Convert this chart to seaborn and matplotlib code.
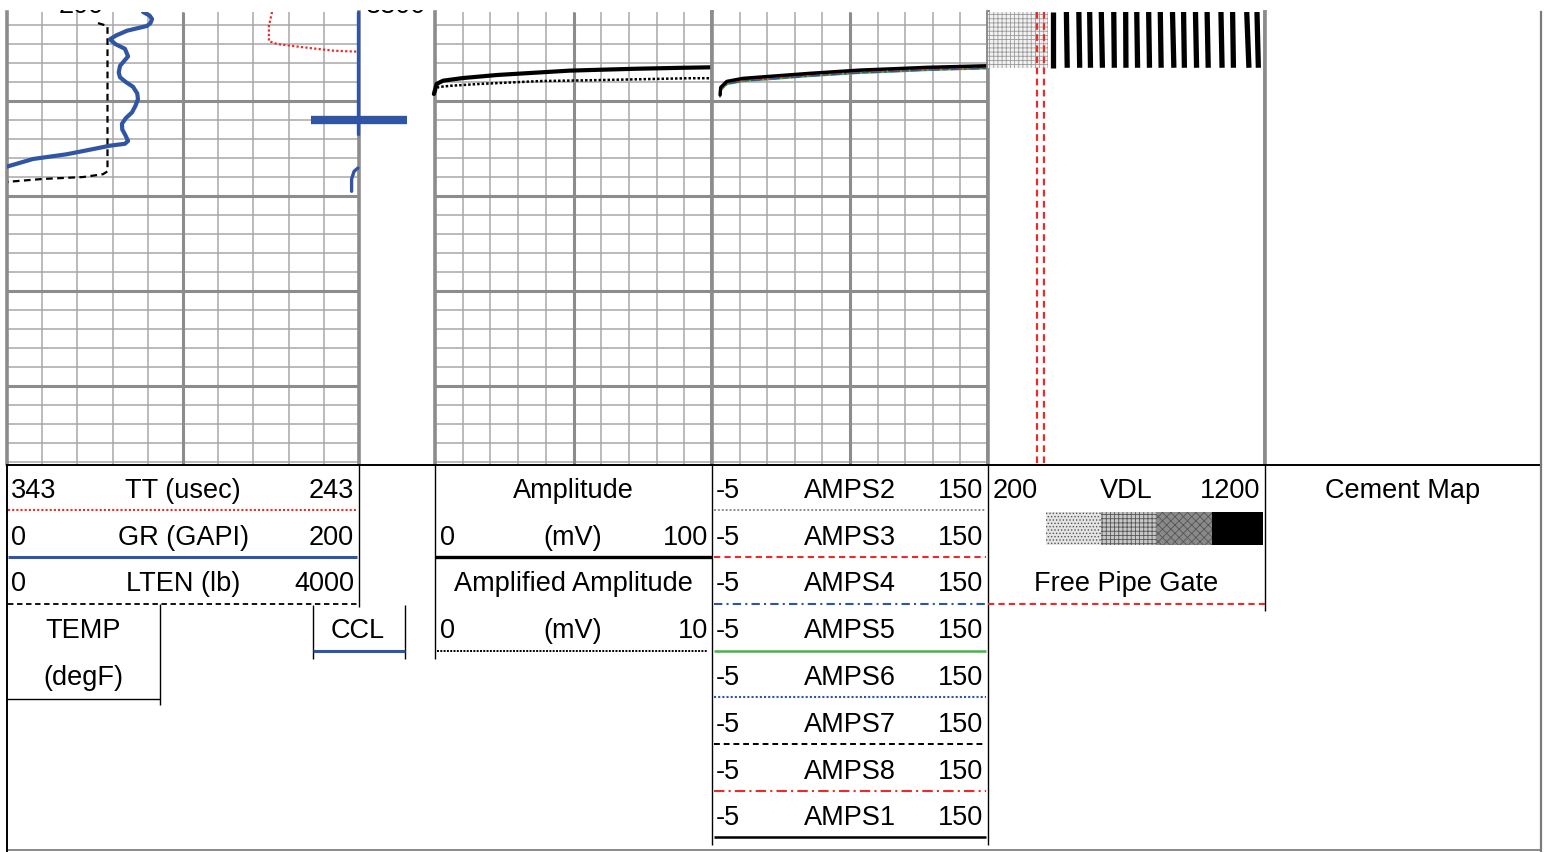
"""
Cement bond log panel: GR / TT / LTEN / CCL, amplitude, sector amplitudes,
VDL and cement map tracks with the header legend underneath.
"""

import numpy as np
import matplotlib
matplotlib.use("Agg")
import matplotlib.pyplot as plt
import seaborn as sns
from matplotlib.patches import Rectangle

# ──────────────────────────────────────────────
# Curve readings (depth in ft)
# ──────────────────────────────────────────────

depth_top, depth_bottom = 3800.63, 3848.2

gr_depth = [3800.63, 3801.0, 3801.37, 3801.8, 3802.1, 3802.6, 3803.1, 3803.5, 3804.0,
            3804.5, 3805.3, 3805.8, 3806.3, 3807.0, 3807.5, 3808.0, 3808.5, 3809.2,
            3809.8, 3810.5, 3811.2, 3811.8, 3812.4, 3813.0, 3813.5, 3814.2, 3814.5,
            3814.7, 3815.2, 3815.6, 3816.1, 3816.9]
gr = [77.3, 81.0, 82.4, 81.5, 79.5, 68.2, 62.0, 58.5, 61.5,
      67.0, 68.8, 66.5, 64.2, 63.5, 64.2, 67.5, 71.6, 74.0,
      74.4, 73.0, 71.0, 67.5, 65.3, 65.5, 67.0, 68.8, 67.0,
      58.5, 45.0, 34.0, 14.8, 0.0]

lten_depth = [3801.8, 3802.1, 3810.0, 3817.4, 3817.7, 3818.0, 3818.2, 3818.5]
lten = [1034, 1142, 1142, 1142, 1091, 864, 409, 11]

tt_depth = [3800.63, 3802.1, 3803.7, 3804.0, 3804.3, 3804.7, 3804.8]
tt = [267.7, 268.6, 268.6, 266.3, 259.8, 250.4, 243.6]

ccl_depth = [3800.63, 3813.5]
ccl = [-0.03, -0.03]
ccl_tail_depth = [3817.05, 3817.4, 3818.2, 3819.5]
ccl_tail = [-0.03, -0.14, -0.21, -0.21]
collar_depth = 3812.0
collar_left, collar_right = -1.36, 1.36

amp_depth = [3809.26, 3808.2, 3807.86, 3807.58, 3807.26, 3807.05, 3806.8, 3806.7,
             3806.6, 3806.5, 3806.45]
amp = [-0.4, 0.6, 2.9, 10.1, 22.4, 34.3, 48.7, 60.6, 72.9, 89.5, 100.0]

amp_x_depth = [3809.05, 3808.53, 3808.4, 3808.2, 3807.9, 3807.8, 3807.6, 3807.6]
amp_x = [0.0, 0.11, 0.54, 1.62, 3.79, 5.85, 9.2, 10.0]

# sector amplitudes: shared readings, each sector sits a hair deeper
amps_mv = [-0.5, -0.1, 3.3, 12.4, 31.5, 50.0, 78.0, 96.6, 115.7, 136.0, 150.0]
amps1_depth = [3809.34, 3808.56, 3807.93, 3807.61, 3807.34, 3807.08, 3806.74, 3806.60,
               3806.45, 3806.35, 3806.28]
amps2_depth = [3809.38, 3808.61, 3807.98, 3807.66, 3807.39, 3807.13, 3806.79, 3806.65,
               3806.50, 3806.40, 3806.33]
amps3_depth = [3809.44, 3808.68, 3808.05, 3807.74, 3807.47, 3807.20, 3806.86, 3806.72,
               3806.58, 3806.48, 3806.40]
amps4_depth = [3809.52, 3808.80, 3808.18, 3807.86, 3807.60, 3807.33, 3807.00, 3806.86,
               3806.70, 3806.60, 3806.52]
amps5_depth = [3809.55, 3808.84, 3808.22, 3807.90, 3807.64, 3807.37, 3807.04, 3806.90,
               3806.74, 3806.63, 3806.56]
amps6_depth = [3809.50, 3808.78, 3808.15, 3807.83, 3807.57, 3807.30, 3806.97, 3806.83,
               3806.67, 3806.57, 3806.49]
amps7_depth = [3809.37, 3808.60, 3807.97, 3807.65, 3807.38, 3807.12, 3806.78, 3806.64,
               3806.49, 3806.39, 3806.32]
amps8_depth = [3809.42, 3808.66, 3808.03, 3807.72, 3807.45, 3807.18, 3806.84, 3806.70,
               3806.56, 3806.46, 3806.38]

# VDL: arrival stripes (usec) at the top and bottom of the logged interval
vdl_depth = [3800.63, 3806.5]
vdl_quiet_end = 415
vdl_peaks_top = [435, 483, 528, 567, 609, 654, 697, 737, 780, 822, 866, 906, 949, 991,
                 1041, 1083, 1134, 1171]
vdl_peaks_bottom = [435, 486, 531, 570, 613, 656, 698, 740, 783, 825, 871, 909, 953, 995,
                    1045, 1086, 1142, 1176]
free_pipe_gate = [377, 402]

# header legend text
tt_row = [("343", "TT (usec)", "243"), ("0", "GR (GAPI)", "200"), ("0", "LTEN (lb)", "4000")]
amp_rows = [("", "Amplitude", ""), ("0", "(mV)", "100"),
            ("", "Amplified Amplitude", ""), ("0", "(mV)", "10")]
amps_names = ["AMPS2", "AMPS3", "AMPS4", "AMPS5", "AMPS6", "AMPS7", "AMPS8", "AMPS1"]
amps_lo, amps_hi = "-5", "150"

# grid spacing (ft) and track divisions
grid_major_depth = np.arange(3810, 3850, 10)
grid_minor_depth = np.arange(3802, 3850, 2)
grid_div = np.arange(0, 1.01, 0.1)

# ──────────────────────────────────────────────
# Figure setup
# ──────────────────────────────────────────────

sns.set_theme(style="white")
plt.rcParams["font.family"] = ["Liberation Sans", "DejaVu Sans"]
plt.rcParams["hatch.linewidth"] = 0.6

W, H = 1554, 853
fig = plt.figure(figsize=(W / 100, H / 100), dpi=100)

GRID_THIN = "#a8a8a8"
GRID_THICK = "#8c8c8c"
BLUE = "#2f55a4"
RED = "#ec2a2a"
GREEN = "#4cb34c"
FS = 19.5


def px_rect(x0, y0, x1, y1):
    return [x0 / W, 1 - y1 / H, (x1 - x0) / W, (y1 - y0) / H]


def track(x0, x1, grid=True):
    ax = fig.add_axes(px_rect(x0, 13, x1, 465))
    ax.set_xlim(0, 1)
    ax.set_ylim(depth_bottom, depth_top)
    ax.set_xticks([])
    ax.set_yticks([])
    if grid:
        ax.hlines(grid_minor_depth, 0, 1, color=GRID_THIN, lw=1.1, zorder=0)
        ax.vlines(grid_div, depth_bottom, depth_top, color=GRID_THIN, lw=1.1, zorder=0)
        ax.hlines(grid_major_depth, 0, 1, color=GRID_THICK, lw=2.2, zorder=0.5)
        ax.vlines([0.5], depth_bottom, depth_top, color=GRID_THICK, lw=2.2, zorder=0.5)
    for side in ("top", "bottom"):
        ax.spines[side].set_visible(False)
    for side in ("left", "right"):
        ax.spines[side].set_color(GRID_THICK)
        ax.spines[side].set_linewidth(2.6)
    ax._px = (x0, x1)
    return ax


def overlay(base, lo, hi):
    x0, x1 = base._px
    tw = fig.add_axes(px_rect(x0, 13, x1, 465))
    tw.set_facecolor("none")
    tw.set_xlim(lo, hi)
    tw.set_ylim(depth_bottom, depth_top)
    tw.axis("off")
    return tw


def curve(ax, x, y, lo, hi, **kw):
    sns.lineplot(x=x, y=y, sort=False, estimator=None, ax=ax, **kw)
    ax.set_xlim(lo, hi)
    ax.set_ylim(depth_bottom, depth_top)
    ax.axis("off")


# ──────────────────────────────────────────────
# Track 1: TT / GR / LTEN / CCL
# ──────────────────────────────────────────────

ax1 = track(7, 359)
ax_tt = overlay(ax1, 343, 243)
curve(ax_tt, tt, tt_depth, 343, 243, color=RED, lw=1.6, ls=(0, (1, 1)))
ax_lten = overlay(ax1, 0, 4000)
curve(ax_lten, lten, lten_depth, 0, 4000, color="black", lw=1.6, ls=(0, (3, 2)))
ax_gr = overlay(ax1, 0, 200)
curve(ax_gr, gr, gr_depth, 0, 200, color=BLUE, lw=3.0)
ax_ccl = overlay(ax1, -10, 0)
curve(ax_ccl, ccl, ccl_depth, -10, 0, color=BLUE, lw=2.4, clip_on=False)
curve(ax_ccl, ccl_tail, ccl_tail_depth, -10, 0, color=BLUE, lw=2.4, clip_on=False)
ax_ccl.hlines(collar_depth, collar_left, collar_right, color=BLUE, lw=6, clip_on=False)

# ──────────────────────────────────────────────
# Track 2: Amplitude
# ──────────────────────────────────────────────

ax2 = track(435, 712)
ax_ax = overlay(ax2, 0, 10)
curve(ax_ax, amp_x, amp_x_depth, 0, 10, color="black", lw=1.8, ls=(0, (1, 0.8)))
ax_amp = overlay(ax2, 0, 100)
curve(ax_amp, amp, amp_depth, 0, 100, color="black", lw=3.0, clip_on=False)

# ──────────────────────────────────────────────
# Track 3: sector amplitudes
# ──────────────────────────────────────────────

ax3 = track(712, 988)
ax_s = overlay(ax3, -5, 150)
amps_styles = [
    (amps5_depth, GREEN, "-", 1.6),
    (amps4_depth, BLUE, (0, (4, 2, 1, 2)), 1.6),
    (amps6_depth, BLUE, (0, (1, 1)), 1.6),
    (amps3_depth, RED, (0, (3, 2)), 1.6),
    (amps8_depth, RED, (0, (5, 2, 1, 2)), 1.6),
    (amps2_depth, "#8c8c8c", (0, (1, 1)), 1.4),
    (amps7_depth, "black", (0, (3, 2)), 1.6),
    (amps1_depth, "black", "-", 2.4),
]
for dep, col, ls, lw in amps_styles:
    curve(ax_s, amps_mv, dep, -5, 150, color=col, ls=ls, lw=lw)

# ──────────────────────────────────────────────
# Track 4: VDL
# ──────────────────────────────────────────────

ax4 = track(988, 1265, grid=False)
ax_v = overlay(ax4, 200, 1200)
ax_v.fill_betweenx(vdl_depth, 200, vdl_quiet_end, facecolor="#f2f2f2",
                   hatch="++++", edgecolor="#9a9a9a", lw=0)
for t0, t1 in zip(vdl_peaks_top, vdl_peaks_bottom):
    ax_v.plot([t0, t1], vdl_depth, color="black", lw=3.8, solid_capstyle="butt")
ax_v.vlines(free_pipe_gate, depth_top, depth_bottom, color=RED, lw=1.6, ls=(0, (3, 2)))

# ──────────────────────────────────────────────
# Track 5: Cement map (empty)
# ──────────────────────────────────────────────

ax5 = track(1265, 1541, grid=False)
ax5.spines["right"].set_color("#7a7a7a")
ax5.spines["right"].set_linewidth(1.6)

# ──────────────────────────────────────────────
# Header legend (pixel coordinates)
# ──────────────────────────────────────────────

hdr = fig.add_axes([0, 0, 1, 1])
hdr.set_xlim(0, W)
hdr.set_ylim(H, 0)
hdr.axis("off")
hdr.patch.set_alpha(0)

row_y = [491, 538, 584, 631, 678, 725, 772, 818]
line_y = [511, 558, 605, 652, 698, 745, 792, 838]


def txt(x, y, s, ha="center"):
    hdr.text(x, y, s, ha=ha, va="center", fontsize=FS, color="black", zorder=3)


def hline(x0, x1, y, **kw):
    hdr.plot([x0, x1], [y, y], solid_capstyle="butt", **kw)


def vline(x, y0, y1, **kw):
    hdr.plot([x, x], [y0, y1], solid_capstyle="butt", **kw)


# clipped labels peeking at the top edge
txt(81, 6, "200")
txt(396, 6, "3800")
hdr.add_patch(Rectangle((0, 0), W, 10.5, facecolor="white", edgecolor="none", zorder=4))

# frame
hline(7, 1541, 465.5, color="black", lw=1.4)
hline(7, 1541, 851, color="#8a8a8a", lw=1.4)
vline(7, 465, 853, color="black", lw=1.4)
vline(1541, 465, 853, color="#7a7a7a", lw=1.6)
vline(359, 465, 608, color="black", lw=1.0)
vline(435, 465, 660, color="black", lw=1.0)
vline(712, 465, 846, color="black", lw=1.0)
vline(988, 465, 846, color="black", lw=1.0)
vline(1265, 465, 612, color="black", lw=1.0)

# track 1 rows
t1_lines = [dict(color=RED, lw=1.5, ls=(0, (1, 1))),
            dict(color=BLUE, lw=2.2),
            dict(color="black", lw=1.3, ls=(0, (3, 2)))]
for (lo, name, hi), y, ly, st in zip(tt_row, row_y, line_y, t1_lines):
    txt(11, y, lo, ha="left")
    txt(183, y, name)
    txt(354, y, hi, ha="right")
    hline(8, 357, ly, **st)

txt(83, row_y[3], "TEMP")
txt(83, row_y[4], "(degF)")
vline(160, 605, 706, color="black", lw=1.0)
hline(7, 160, 700, color="black", lw=1.0)

txt(358, row_y[3], "CCL")
vline(313, 606, 660, color="black", lw=1.0)
vline(405, 606, 660, color="black", lw=1.0)
hline(313, 405, 652, color=BLUE, lw=2.2)

# track 2 rows
for (lo, name, hi), y in zip(amp_rows, row_y):
    if lo:
        txt(440, y, lo, ha="left")
        txt(708, y, hi, ha="right")
    txt(573, y, name)
hline(435, 712, line_y[1], color="black", lw=2.4)
hline(437, 708, line_y[3], color="black", lw=1.4, ls=(0, (1, 0.7)))

# track 3 rows
amps_lines = [dict(color="#8c8c8c", lw=1.4, ls=(0, (1, 1))),
              dict(color=RED, lw=1.5, ls=(0, (3, 2))),
              dict(color=BLUE, lw=1.5, ls=(0, (4, 2, 1, 2))),
              dict(color=GREEN, lw=1.8),
              dict(color=BLUE, lw=1.5, ls=(0, (1, 1))),
              dict(color="black", lw=1.4, ls=(0, (3, 2))),
              dict(color=RED, lw=1.5, ls=(0, (5, 2, 1, 2))),
              dict(color="black", lw=1.8)]
for name, y, ly, st in zip(amps_names, row_y, line_y, amps_lines):
    txt(716, y, amps_lo, ha="left")
    txt(850, y, name)
    txt(983, y, amps_hi, ha="right")
    hline(714, 986, ly, **st)

# track 4 rows
txt(993, row_y[0], "200", ha="left")
txt(1126, row_y[0], "VDL")
txt(1260, row_y[0], "1200", ha="right")
swatches = [(1046, "#e4e4e4", "....."), (1101, "#c8c8c8", "++++"),
            (1156, "#8a8a8a", "xxxx"), (1212, "black", None)]
for i, (x0, col, hatch) in enumerate(swatches):
    x1 = swatches[i + 1][0] if i + 1 < len(swatches) else 1263
    hdr.add_patch(Rectangle((x0, 513), x1 - x0, 33, facecolor=col, hatch=hatch,
                            edgecolor="#555555" if hatch else "black", lw=0))
txt(1126, row_y[2], "Free Pipe Gate")
hline(988, 1265, line_y[2], color=RED, lw=1.5, ls=(0, (3, 2)))

# track 5
txt(1403, row_y[0], "Cement Map")

fig.savefig("out.png", dpi=100, facecolor="white")
